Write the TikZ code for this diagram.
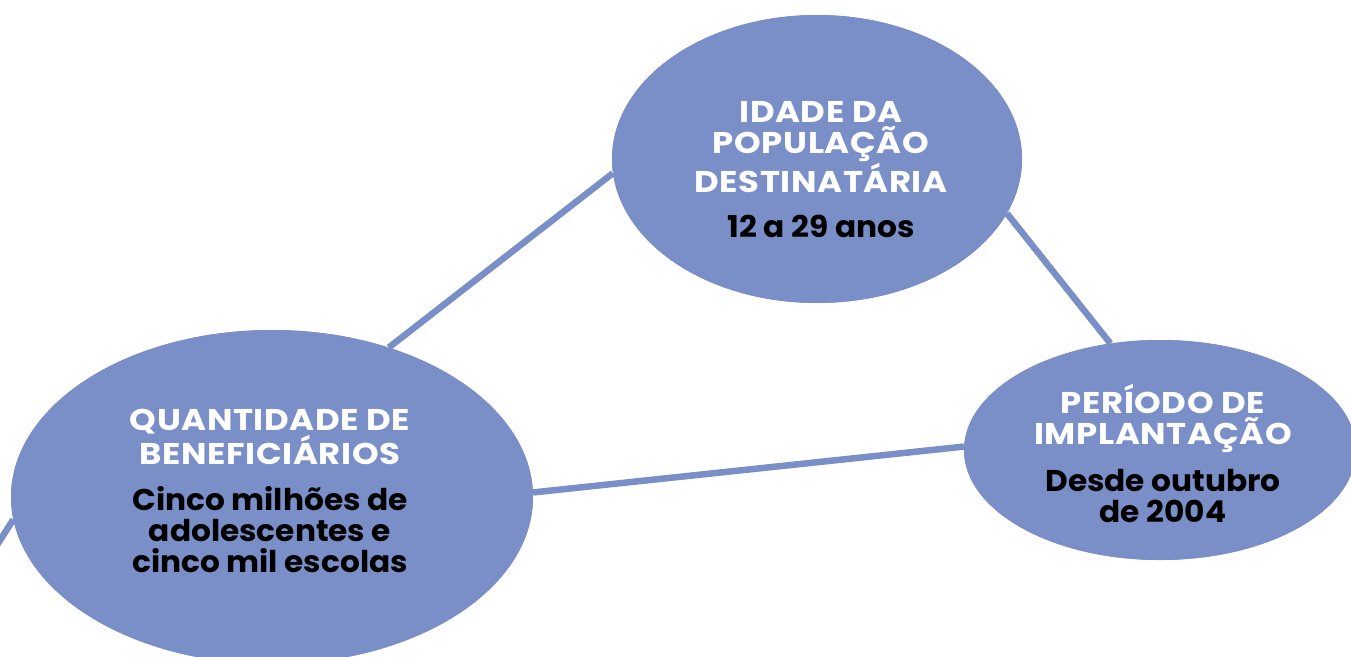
\documentclass[tikz,border=0pt]{standalone}
\usepackage{fontspec}
\setmainfont{Poppins}
\newfontfamily\headfont{Poppins}[FakeStretch=1.13,LetterSpace=2]
\newfontfamily\bodyfont{Poppins}[FakeStretch=1.04]
\usetikzlibrary{shapes.geometric}
\definecolor{blob}{HTML}{7A8EC7}
\begin{document}
\begin{tikzpicture}[x=1pt,y=-1pt,
  blobnode/.style={ellipse,fill=blob,draw=none,inner sep=0pt},
  link/.style={draw=blob,line width=6.5pt},
  head/.style={align=center,text=white,inner sep=0pt,anchor=base,font=\headfont\fontsize{30}{31}\selectfont\bfseries},
  body/.style={align=center,text=black,inner sep=0pt,anchor=base,font=\bodyfont\fontsize{30}{31}\selectfont\bfseries}]
\useasboundingbox (0,0) rectangle (1351,656);
\clip (0,0) rectangle (1351,656);
\coordinate (off) at (-40,603);
\node[blobnode,minimum width=410pt,minimum height=288pt] (T) at (817,159) {};
\node[blobnode,minimum width=522pt,minimum height=334pt] (L) at (272,497) {};
\node[blobnode,minimum width=392pt,minimum height=220pt] (R) at (1160,450) {};
\draw[link] (L.52) -- (T.184);
\draw[link] (T.-16) -- (R.115);
\draw[link] (L.1) -- (R.179);
\draw[link] (L.185.5) -- (off);
% ellipses again on top of the connectors
\fill[blob] (T.center) ellipse [x radius=205pt, y radius=144pt];
\fill[blob] (L.center) ellipse [x radius=261pt, y radius=167pt];
\fill[blob] (R.center) ellipse [x radius=196pt, y radius=110pt];
\node[head] (Th) at (821,192) {IDADE DA\\POPULAÇÃO\\DESTINATÁRIA};
\node[body] (Tb) at (821,237) {12 a 29 anos};
\node[head] (Lh) at (270,464) {QUANTIDADE DE\\BENEFICIÁRIOS};
\node[body] (Lb) at (270,572) {Cinco milhões de\\adolescentes e\\cinco mil escolas};
\node[head] (Rh) at (1163,444) {PERÍODO DE\\IMPLANTAÇÃO};
\node[body] (Rb) at (1163,522) {Desde outubro\\de 2004};
\end{tikzpicture}
\end{document}
